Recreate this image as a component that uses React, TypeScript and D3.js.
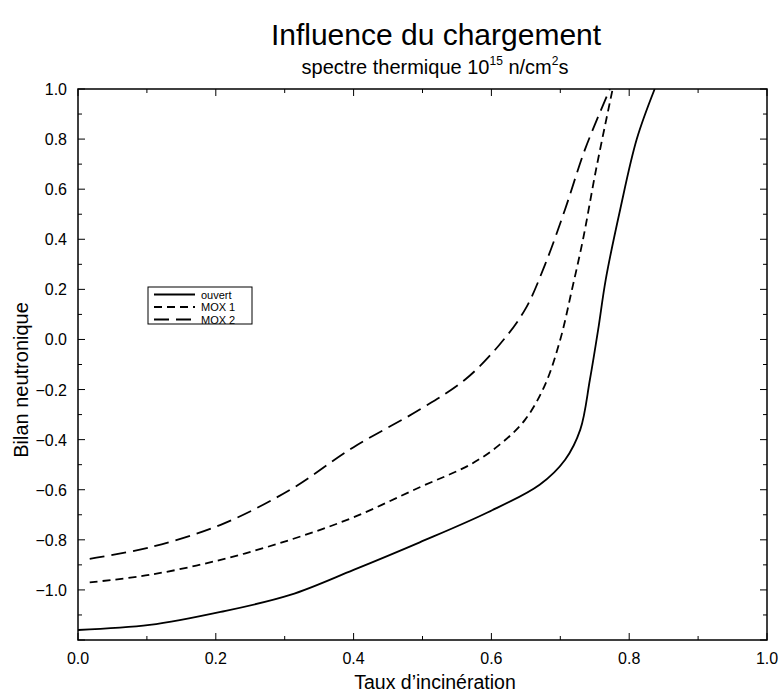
import React, { useEffect, useRef } from "react";
import * as d3 from "d3";

const ouvertX = [0.0, 0.104, 0.207, 0.308, 0.4, 0.496, 0.595, 0.67, 0.707, 0.729, 0.743, 0.755, 0.766, 0.787, 0.811, 0.837];
const ouvertY = [-1.16, -1.14, -1.088, -1.02, -0.92, -0.81, -0.69, -0.58, -0.48, -0.36, -0.16, 0.04, 0.24, 0.52, 0.8, 1.0];

const mox1X = [0.017, 0.104, 0.207, 0.308, 0.4, 0.496, 0.569, 0.612, 0.649, 0.678, 0.7, 0.717, 0.733, 0.752, 0.776];
const mox1Y = [-0.97, -0.94, -0.88, -0.8, -0.71, -0.59, -0.5, -0.42, -0.32, -0.18, 0.0, 0.2, 0.4, 0.68, 1.0];

const mox2X = [0.017, 0.104, 0.207, 0.308, 0.4, 0.496, 0.562, 0.612, 0.649, 0.678, 0.707, 0.736, 0.772];
const mox2Y = [-0.876, -0.83, -0.74, -0.6, -0.43, -0.28, -0.16, -0.02, 0.12, 0.3, 0.52, 0.76, 1.0];

const seriesNames = ["ouvert", "MOX 1", "MOX 2"];
const seriesDash = ["none", "8,5", "15,7"];

const xTicks = [0, 0.2, 0.4, 0.6, 0.8, 1.0];
const yTicks = [-1.0, -0.8, -0.6, -0.4, -0.2, 0.0, 0.2, 0.4, 0.6, 0.8, 1.0];

const W = 781;
const H = 693;
const M = { left: 78, right: 767, top: 89, bottom: 640 };
const FONT = "'Liberation Sans', Arial, Helvetica, sans-serif";

export default function App() {
  const ref = useRef<SVGSVGElement | null>(null);

  useEffect(() => {
    const svg = d3.select(ref.current);
    svg.selectAll("*").remove();

    const x = d3.scaleLinear().domain([0, 1]).range([M.left, M.right]);
    const y = d3.scaleLinear().domain([-1.2, 1.0]).range([M.bottom, M.top]);

    const fmt = (v: number) => (v < 0 ? "\u2212" : "") + Math.abs(v).toFixed(1);

    svg.append("defs").append("clipPath").attr("id", "clip")
      .append("rect").attr("x", M.left).attr("y", M.top)
      .attr("width", M.right - M.left).attr("height", M.bottom - M.top);

    const g = svg.append("g");

    const xMinor = d3.range(0, 1.0001, 0.1);
    const yMinor = d3.range(-1.2, 1.0001, 0.1);
    xMinor.forEach((v) => {
      const isMajor = Math.abs(Math.round(v * 5) - v * 5) < 1e-6;
      const len = isMajor ? 7 : 4;
      g.append("line").attr("x1", x(v)).attr("x2", x(v)).attr("y1", M.bottom).attr("y2", M.bottom - len).attr("stroke", "#000").attr("stroke-width", 1);
      g.append("line").attr("x1", x(v)).attr("x2", x(v)).attr("y1", M.top).attr("y2", M.top + len).attr("stroke", "#000").attr("stroke-width", 1);
    });
    yMinor.forEach((v) => {
      const isMajor = Math.abs(Math.round(v * 5) - v * 5) < 1e-6;
      const len = isMajor ? 7 : 4;
      g.append("line").attr("y1", y(v)).attr("y2", y(v)).attr("x1", M.left).attr("x2", M.left + len).attr("stroke", "#000").attr("stroke-width", 1);
      g.append("line").attr("y1", y(v)).attr("y2", y(v)).attr("x1", M.right).attr("x2", M.right - len).attr("stroke", "#000").attr("stroke-width", 1);
    });

    g.append("rect").attr("x", M.left).attr("y", M.top)
      .attr("width", M.right - M.left).attr("height", M.bottom - M.top)
      .attr("fill", "none").attr("stroke", "#000").attr("stroke-width", 1.5);

    xTicks.forEach((v) => {
      g.append("text").attr("x", x(v)).attr("y", M.bottom + 24)
        .attr("text-anchor", "middle").attr("font-family", FONT).attr("font-size", 16)
        .text(v.toFixed(1));
    });
    yTicks.forEach((v) => {
      g.append("text").attr("x", M.left - 11).attr("y", y(v) + 6)
        .attr("text-anchor", "end").attr("font-family", FONT).attr("font-size", 16)
        .text(fmt(v));
    });

    const line = d3.line<[number, number]>().x((d) => x(d[0])).y((d) => y(d[1])).curve(d3.curveCatmullRom.alpha(0.5));
    const data: [number, number][][] = [
      ouvertX.map((v, i) => [v, ouvertY[i]] as [number, number]),
      mox1X.map((v, i) => [v, mox1Y[i]] as [number, number]),
      mox2X.map((v, i) => [v, mox2Y[i]] as [number, number]),
    ];
    const lg = svg.append("g").attr("clip-path", "url(#clip)");
    data.forEach((d, i) => {
      lg.append("path").attr("d", line(d) as string).attr("fill", "none")
        .attr("stroke", "#000").attr("stroke-width", 1.8)
        .attr("stroke-dasharray", seriesDash[i]);
    });

    const lx = 148, ly = 287, lw = 104, lh = 37;
    const leg = svg.append("g");
    leg.append("rect").attr("x", lx).attr("y", ly).attr("width", lw).attr("height", lh)
      .attr("fill", "#fff").attr("stroke", "#000").attr("stroke-width", 1);
    seriesNames.forEach((n, i) => {
      const yy = ly + 7.5 + i * 12.5;
      leg.append("line").attr("x1", lx + 6).attr("x2", lx + 47).attr("y1", yy).attr("y2", yy)
        .attr("stroke", "#000").attr("stroke-width", 1.8).attr("stroke-dasharray", seriesDash[i]);
      leg.append("text").attr("x", lx + 53).attr("y", yy + 4)
        .attr("font-family", FONT).attr("font-size", 11).text(n);
    });

    svg.append("text").attr("x", 436).attr("y", 45).attr("text-anchor", "middle")
      .attr("font-family", FONT).attr("font-size", 30).text("Influence du chargement");

    const sub = svg.append("text").attr("x", 435).attr("y", 74).attr("text-anchor", "middle")
      .attr("font-family", FONT).attr("font-size", 20);
    sub.append("tspan").text("spectre thermique 10");
    sub.append("tspan").attr("font-size", 12).attr("dy", -9).text("15");
    sub.append("tspan").attr("dy", 9).text(" n/cm");
    sub.append("tspan").attr("font-size", 12).attr("dy", -9).text("2");
    sub.append("tspan").attr("dy", 9).text("s");

    svg.append("text").attr("x", 435).attr("y", 689).attr("text-anchor", "middle")
      .attr("font-family", FONT).attr("font-size", 19.5).text("Taux d\u2019incin\u00e9ration");

    svg.append("text").attr("transform", `translate(28, 380) rotate(-90)`)
      .attr("text-anchor", "middle").attr("font-family", FONT).attr("font-size", 20)
      .text("Bilan neutronique");
  }, []);

  return (
    <svg
      ref={ref}
      width={W}
      height={H}
      style={{ position: "absolute", left: 0, top: 0, background: "#fff" }}
    />
  );
}
